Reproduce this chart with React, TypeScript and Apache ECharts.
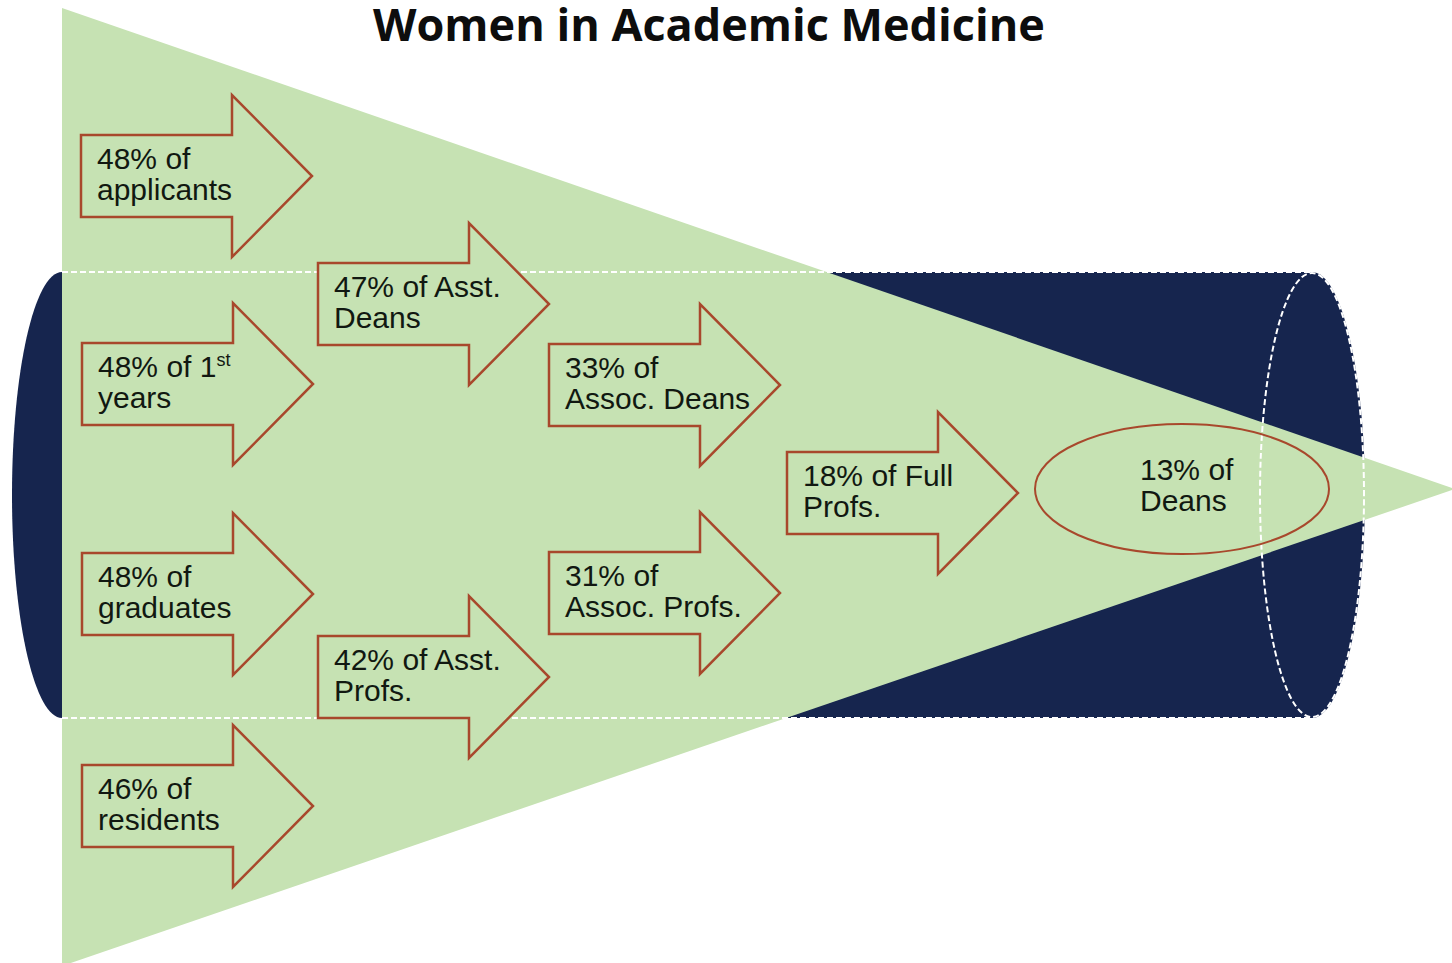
import React, { useEffect, useRef } from "react";
import * as echarts from "echarts";

const W = 1452;
const H = 963;

// Funnel stages (percent of women at each stage)
const percents = [48, 48, 48, 46, 47, 42, 33, 31, 18, 13];
const line1Extra = ["", " 1", "", "", " Asst.", " Asst.", "", "", " Full", ""];
const line1Sup = ["", "st", "", "", "", "", "", "", "", ""];
const line2 = [
  "applicants",
  "years",
  "graduates",
  "residents",
  "Deans",
  "Profs.",
  "Assoc. Deans",
  "Assoc. Profs.",
  "Profs.",
  "Deans",
];
// layout anchors (arrow body left x, centre y) in the diagram's coordinate space
const stageX = [81, 82, 82, 82, 318, 318, 549, 549, 787, 1140];
const stageY = [176, 384, 594, 806, 304, 677, 385, 593, 493, 485];
const shapeKind = ["arrow", "arrow", "arrow", "arrow", "arrow", "arrow", "arrow", "arrow", "arrow", "ellipse"];

const GREEN = "#c6e2b3";
const NAVY = "#16254e";
const RED = "#a8482c";

export default function App() {
  const ref = useRef<HTMLDivElement>(null);
  useEffect(() => {
    document.body.style.margin = "0";
    const chart = echarts.init(ref.current!, null, { renderer: "svg" });
    const data = percents.map((p, i) => [stageX[i], stageY[i], i]);
    const renderItem = (params: any, api: any) => {
      const i = api.value(2);
      const pt = api.coord([api.value(0), api.value(1)]);
      const bx = pt[0];
      const cy = pt[1];
      const rich = {
        a: { fontSize: 30, fontFamily: "Liberation Sans", fill: "#111811", lineHeight: 31 },
        s: { fontSize: 18, fontFamily: "Liberation Sans", fill: "#111811", verticalAlign: "top", lineHeight: 31 },
      };
      const sup = line1Sup[i] ? `{s|${line1Sup[i]}}` : "";
      const txt = `{a|${percents[i]}% of${line1Extra[i]}}${sup}\n{a|${line2[i]}}`;
      const children: any[] = [];
      if (shapeKind[i] === "arrow") {
        const bw = 151, hl = 80, bh = 41, hh = 81;
        children.push({
          type: "polygon",
          shape: {
            points: [
              [bx, cy - bh],
              [bx + bw, cy - bh],
              [bx + bw, cy - hh],
              [bx + bw + hl, cy],
              [bx + bw, cy + hh],
              [bx + bw, cy + bh],
              [bx, cy + bh],
            ],
          },
          style: { fill: GREEN, stroke: RED, lineWidth: 2.5, lineJoin: "miter" },
        });
        children.push({
          type: "text",
          style: { x: bx + 16, y: cy - 2, text: txt, rich, align: "left", verticalAlign: "middle" },
        });
      } else {
        children.push({
          type: "ellipse",
          shape: { cx: bx + 42, cy: cy + 4, rx: 147, ry: 65 },
          style: { fill: "none", stroke: RED, lineWidth: 2 },
        });
        children.push({
          type: "text",
          style: { x: bx, y: cy, text: txt, rich, align: "left", verticalAlign: "middle" },
        });
      }
      return { type: "group", children };
    };

    const option: any = {
      animation: false,
      backgroundColor: "#ffffff",
      title: {
        text: "Women in Academic Medicine",
        left: 373,
        top: 0,
        padding: 0,
        textStyle: { fontFamily: "Open Sans", fontWeight: "bold", fontSize: 45, color: "#0d0d0d", lineHeight: 46 },
      },
      grid: { left: 0, right: 0, top: 0, bottom: 0 },
      xAxis: { type: "value", min: 0, max: W, show: false },
      yAxis: { type: "value", min: 0, max: H, inverse: true, show: false },
      graphic: [
        { type: "rect", z: 0, shape: { x: 62, y: 272, width: 1250, height: 446 }, style: { fill: NAVY } },
        { type: "ellipse", z: 0, shape: { cx: 62, cy: 495, rx: 50, ry: 223 }, style: { fill: NAVY } },
        { type: "ellipse", z: 0, shape: { cx: 1312, cy: 495, rx: 53, ry: 223 }, style: { fill: NAVY } },
        {
          type: "polygon",
          z: 1,
          shape: { points: [[62, 8], [1455, 489], [62, 966]] },
          style: { fill: GREEN },
        },
        {
          type: "line",
          z: 2,
          shape: { x1: 62, y1: 272, x2: 1312, y2: 272 },
          style: { stroke: "#ffffff", lineWidth: 2, lineDash: [6, 3] },
        },
        {
          type: "line",
          z: 2,
          shape: { x1: 62, y1: 718, x2: 1312, y2: 718 },
          style: { stroke: "#ffffff", lineWidth: 2, lineDash: [6, 3] },
        },
        {
          type: "ellipse",
          z: 2,
          shape: { cx: 1312, cy: 495, rx: 52, ry: 222 },
          style: { fill: "none", stroke: "#ffffff", lineWidth: 2, lineDash: [6, 3] },
        },
      ],
      series: [
        {
          type: "custom",
          coordinateSystem: "cartesian2d",
          z: 5,
          silent: true,
          data,
          renderItem,
        },
      ],
    };
    chart.setOption(option);
    return () => chart.dispose();
  }, []);
  return <div ref={ref} style={{ position: "fixed", left: 0, top: 0, width: W, height: H }} />;
}
